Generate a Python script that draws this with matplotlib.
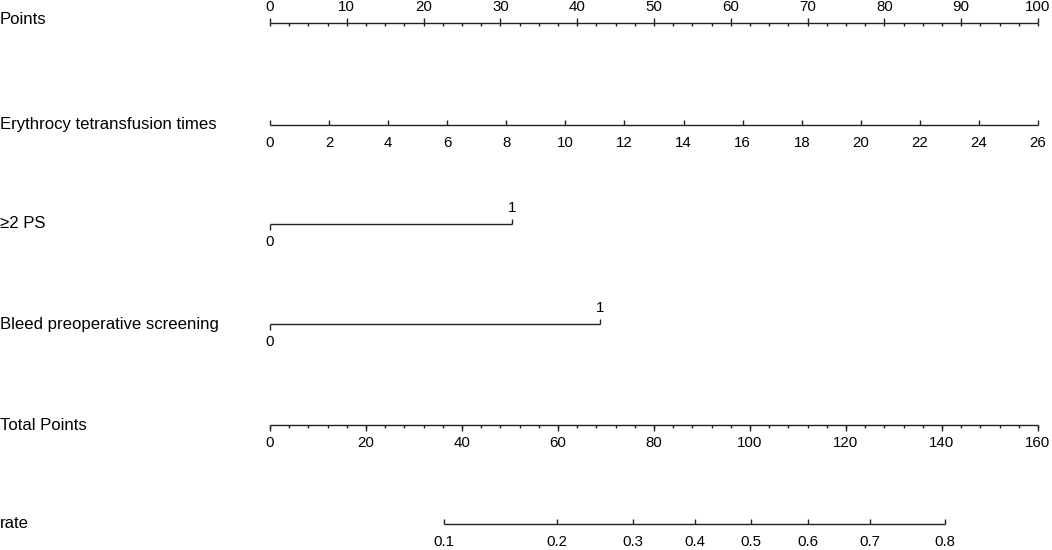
import numpy as np
import matplotlib
matplotlib.use("Agg")
import matplotlib.pyplot as plt
from matplotlib.transforms import blended_transform_factory

plt.rcParams['font.family'] = ['Liberation Sans', 'DejaVu Sans']

# ---- data ----
row_labels = ["Points", "Erythrocy tetransfusion times", "\u22652 PS",
              "Bleed preoperative screening", "Total Points", "rate"]
points_ticks = list(range(0, 101, 10))
points_minor = [2.5 * i for i in range(41)]
ery_ticks = list(range(0, 27, 2))
ery_max = 26
ps_levels = [0, 1]
ps_points = [0, 31.5]
bleed_levels = [0, 1]
bleed_points = [0, 43.0]
total_ticks = list(range(0, 161, 20))
total_minor = list(range(0, 161, 4))
total_max = 160
rate_ticks = [0.1, 0.2, 0.3, 0.4, 0.5, 0.6, 0.7, 0.8]
rate_lp_center = 100.25   # total points at rate 0.5
rate_lp_scale = 29.13     # total points per logit unit

# ---- layout (pixel rows) ----
W, H = 1052, 550
fig = plt.figure(figsize=(W / 100, H / 100), dpi=100)
x0, x1 = 270, 1038
ax = fig.add_axes([x0 / W, 0, (x1 - x0) / W, 1])
ax.set_xlim(0, 100)
ax.set_ylim(H, 0)
ax.axis('off')

col = '#222222'
lw = 1.0
maj = 5.5
mnr = 2.5
tfs = 10.8
lfs = 12.1

row_y = [23, 125, 224, 324, 425, 524]
lab_dy = [-4, -1, 0, 0, 0, -1]

trans = blended_transform_factory(fig.transFigure, ax.transData)
for lab, y, d in zip(row_labels, row_y, lab_dy):
    ax.text(0.0, y + d, lab, transform=trans, ha='left', va='center',
            fontsize=lfs, color='black')

def hline(a, b, y):
    ax.plot([a, b], [y, y], color=col, lw=lw, clip_on=False, solid_capstyle='butt')

def tick(x, y, length):
    ax.plot([x, x], [y, y + length], color=col, lw=lw, clip_on=False, solid_capstyle='butt')

# Points
y = row_y[0]
hline(0, 100, y)
for v in points_minor:
    tick(v, y, mnr)
for v in points_ticks:
    tick(v, y, -maj)
    ax.text(v, y - 16, str(v), ha='center', va='center', fontsize=tfs, color='black')

# Erythrocyte transfusion
y = row_y[1]
sc = 100 / ery_max
hline(0, ery_max * sc, y)
for v in ery_ticks:
    tick(v * sc, y, -maj)
    ax.text(v * sc, y + 18, str(v), ha='center', va='center', fontsize=tfs, color='black')

# Binary variables
for yy, lev, pts in [(row_y[2], ps_levels, ps_points), (row_y[3], bleed_levels, bleed_points)]:
    hline(pts[0], pts[1], yy)
    tick(pts[0], yy, maj)
    ax.text(pts[0], yy + 18, str(lev[0]), ha='center', va='center', fontsize=tfs, color='black')
    tick(pts[1], yy, -maj)
    ax.text(pts[1], yy - 16, str(lev[1]), ha='center', va='center', fontsize=tfs, color='black')

# Total points
y = row_y[4]
tsc = 100 / total_max
hline(0, total_max * tsc, y)
for v in total_minor:
    tick(v * tsc, y, mnr)
for v in total_ticks:
    tick(v * tsc, y, maj)
    ax.text(v * tsc, y + 18, str(v), ha='center', va='center', fontsize=tfs, color='black')

# rate
y = row_y[5]
rate_tp = [rate_lp_center + rate_lp_scale * np.log(p / (1 - p)) for p in rate_ticks]
hline(rate_tp[0] * tsc, rate_tp[-1] * tsc, y)
for p, tp in zip(rate_ticks, rate_tp):
    tick(tp * tsc, y, -maj)
    ax.text(tp * tsc, y + 18, f"{p:.1f}", ha='center', va='center', fontsize=tfs, color='black')

fig.savefig("out.png", dpi=100, facecolor='white')
